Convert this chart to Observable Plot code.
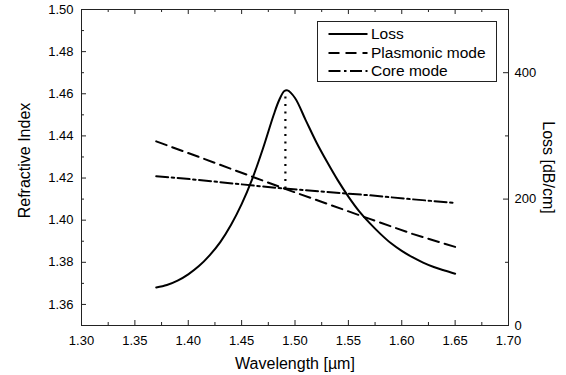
<!DOCTYPE html>
<html>
<head>
<meta charset="utf-8">
<script src="https://cdn.jsdelivr.net/npm/d3@7"></script>
<script src="https://cdn.jsdelivr.net/npm/@observablehq/plot@0.6"></script>
<style>
  html, body { margin: 0; padding: 0; background: #fff; }
  body { font-family: "Liberation Sans", Arial, Helvetica, sans-serif; }
  #wrap { position: relative; width: 566px; height: 375px; }
  #legend { position: absolute; left: 317px; top: 21px; width: 178px; height: 59px;
            border: 1px solid #222; background: #fff; }
  #legend .row { position: absolute; left: 0; height: 18px; width: 178px; }
  #legend svg { position: absolute; left: 10px; top: 0; }
  #legend span { position: absolute; left: 53px; top: 0; line-height: 18px; font-size: 15.5px; color: #000; white-space: nowrap; }
</style>
</head>
<body>
<div id="wrap"><div id="chart"></div><div id="legend"></div></div>
<script>
// ---- data ----
const lossWavelength = [1.37, 1.38, 1.39, 1.40, 1.41, 1.42, 1.43, 1.44, 1.45, 1.46, 1.47, 1.48, 1.485, 1.49, 1.493, 1.50, 1.51, 1.52, 1.53, 1.54, 1.55, 1.56, 1.57, 1.58, 1.59, 1.60, 1.61, 1.62, 1.63, 1.64, 1.65];
const lossValues     = [60, 64, 71, 81, 94, 111, 132, 159, 192, 232, 280, 333, 356, 371, 372, 360, 325, 290, 259, 230, 204, 181, 162, 145, 130, 118, 108, 99.5, 92.5, 87, 82];
const modeWavelength = [1.37, 1.41, 1.45, 1.49, 1.53, 1.57, 1.61, 1.65];
const plasmonicIndex = [1.4374, 1.4300, 1.4225, 1.4150, 1.4078, 1.4006, 1.3935, 1.3873];
const coreIndex      = [1.4209, 1.4191, 1.4170, 1.4150, 1.4134, 1.4118, 1.4099, 1.4082];
const resonanceWavelength = [1.491];
const resonanceIndex = [1.4148];
const resonanceLoss = [372];

const xDomain = [1.30, 1.70];
const yDomain = [1.35, 1.50];
const lossDomain = [0, 500];
const xTicks = [1.30, 1.35, 1.40, 1.45, 1.50, 1.55, 1.60, 1.65, 1.70];
const xMinorTicks = [1.325, 1.375, 1.425, 1.475, 1.525, 1.575, 1.625, 1.675];
const yTicks = [1.36, 1.38, 1.40, 1.42, 1.44, 1.46, 1.48, 1.50];
const yMinorTicks = [1.37, 1.39, 1.41, 1.43, 1.45, 1.47, 1.49];
const lossTicks = [0, 200, 400];
const lossMinorTicks = [100, 300];
const seriesNames = ["Loss", "Plasmonic mode", "Core mode"];
const seriesDash = [null, "11,6", "12,3.5,2.5,3.5"];

// ---- build ----
const W = 566, H = 375, mL = 81, mR = 58, mT = 9, mB = 50;
const innerW = W - mL - mR, innerH = H - mT - mB;
const lossToIndex = d3.scaleLinear(lossDomain, yDomain);

const lossData = lossWavelength.map((w, i) => ({w, v: lossToIndex(lossValues[i])}));
const plasData = modeWavelength.map((w, i) => ({w, v: plasmonicIndex[i]}));
const coreData = modeWavelength.map((w, i) => ({w, v: coreIndex[i]}));
const resData = resonanceWavelength.map((w, i) => ({w, y1: resonanceIndex[i], y2: lossToIndex(resonanceLoss[i])}));

const font = "'Liberation Sans', Arial, Helvetica, sans-serif";
const ink = "#000", axisInk = "#222";
const majorLen = 5, minorLen = 3;

const chart = Plot.plot({
  width: W, height: H,
  marginLeft: mL, marginRight: mR, marginTop: mT, marginBottom: mB,
  x: {domain: xDomain},
  y: {domain: yDomain},
  style: {fontFamily: font, fontSize: "13px", color: ink, background: "#fff"},
  marks: [
    // tick marks (inward)
    Plot.tickX(xTicks, {x: d => d, insetTop: innerH - majorLen, stroke: axisInk}),
    Plot.tickX(xMinorTicks, {x: d => d, insetTop: innerH - minorLen, stroke: axisInk}),
    Plot.tickX(xTicks, {x: d => d, insetBottom: innerH - majorLen, stroke: axisInk}),
    Plot.tickX(xMinorTicks, {x: d => d, insetBottom: innerH - minorLen, stroke: axisInk}),
    Plot.tickY(yTicks, {y: d => d, insetRight: innerW - majorLen, stroke: axisInk}),
    Plot.tickY(yMinorTicks, {y: d => d, insetRight: innerW - minorLen, stroke: axisInk}),
    Plot.tickY(lossTicks, {y: d => lossToIndex(d), insetLeft: innerW - majorLen, stroke: axisInk}),
    Plot.tickY(lossMinorTicks, {y: d => lossToIndex(d), insetLeft: innerW - minorLen, stroke: axisInk}),
    // axes labels
    Plot.axisX({ticks: xTicks, tickSize: 0, tickPadding: 10, tickFormat: d3.format(".2f"), label: null, fontSize: 13}),
    Plot.axisY({ticks: yTicks, tickSize: 0, tickPadding: 8, tickFormat: d3.format(".2f"), label: null, fontSize: 13}),
    Plot.axisY({anchor: "right", ticks: lossTicks.map(d => lossToIndex(d)), tickSize: 0, tickPadding: 6,
      tickFormat: d => String(Math.round(lossToIndex.invert(d))), label: null, fontSize: 13}),
    // titles
    Plot.text(["Wavelength [µm]"], {frameAnchor: "bottom", dy: 38, textAnchor: "middle", lineAnchor: "middle", fontSize: 16, fill: ink}),
    Plot.text(["Refractive Index"], {frameAnchor: "left", dx: -57, dy: -7, textAnchor: "middle", lineAnchor: "middle", rotate: -90, fontSize: 16, fill: ink}),
    Plot.text(["Loss [dB/cm]"], {frameAnchor: "right", dx: 40, textAnchor: "middle", lineAnchor: "middle", rotate: 90, fontSize: 16, fill: ink}),
    // data
    Plot.line(plasData, {x: "w", y: "v", stroke: ink, strokeWidth: 2, strokeDasharray: seriesDash[1]}),
    Plot.line(coreData, {x: "w", y: "v", stroke: ink, strokeWidth: 2, strokeDasharray: seriesDash[2]}),
    Plot.line(lossData, {x: "w", y: "v", stroke: ink, strokeWidth: 2, curve: "catmull-rom"}),
    Plot.ruleX(resData, {x: "w", y1: "y1", y2: "y2", stroke: ink, strokeWidth: 2.2, strokeDasharray: "2,5.5"}),
    Plot.frame({stroke: axisInk, strokeWidth: 1})
  ]
});
document.getElementById("chart").appendChild(chart);

// legend
const legend = document.getElementById("legend");
const rowTops = [3, 22, 40];
seriesNames.forEach((name, i) => {
  const row = document.createElement("div");
  row.className = "row";
  row.style.top = rowTops[i] + "px";
  const svg = d3.create("svg").attr("width", 40).attr("height", 18);
  svg.append("line").attr("x1", 0.5).attr("x2", 39.5).attr("y1", 9).attr("y2", 9)
    .attr("stroke", ink).attr("stroke-width", 2).attr("stroke-dasharray", seriesDash[i]);
  row.appendChild(svg.node());
  const span = document.createElement("span");
  span.textContent = name;
  row.appendChild(span);
  legend.appendChild(row);
});
</script>
</body>
</html>
